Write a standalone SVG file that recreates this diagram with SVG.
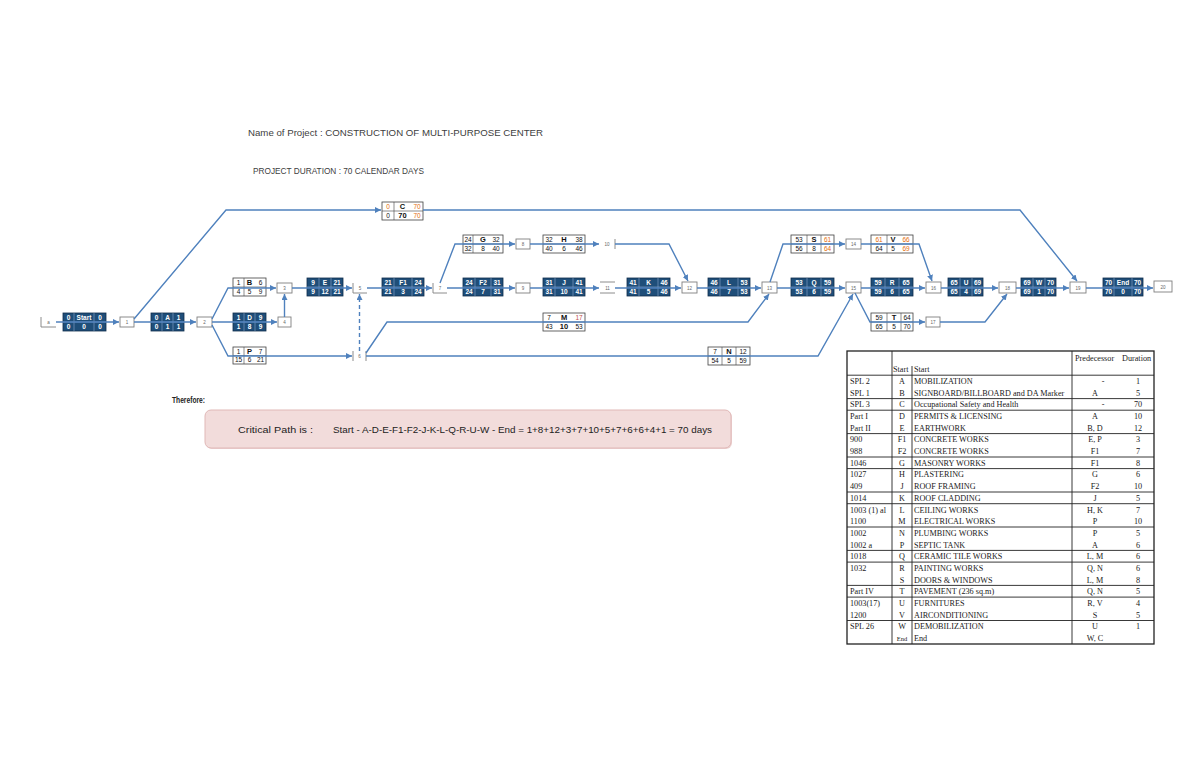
<svg xmlns="http://www.w3.org/2000/svg" width="1200" height="763" viewBox="0 0 1200 763">
<defs>
<marker id="ah" viewBox="0 0 6 6" refX="6" refY="3" markerWidth="6" markerHeight="6" markerUnits="userSpaceOnUse" orient="auto"><path d="M0,0 L6,3 L0,6 z" fill="#4F81BD"/></marker>
<style>
.bn{fill:#1F4E79;stroke:#0F2D4D;stroke-width:0.8}
.bl{stroke:#8FA9CC;stroke-width:0.6}
.wn{fill:#fff;stroke:#404040;stroke-width:0.8}
.wl{stroke:#404040;stroke-width:0.6}
.tw{fill:#fff;font-family:"Liberation Sans",Arial,sans-serif;font-size:6.5px;font-weight:bold;text-anchor:middle}
.tk{fill:#111;font-family:"Liberation Sans",Arial,sans-serif;font-size:6.5px;text-anchor:middle}
.tk b,.big{font-weight:bold;font-size:7.5px}
.or{fill:#E46C0A}
.ev{fill:#fff;stroke:#7F7F7F;stroke-width:0.9}
.evl{fill:none;stroke:#7F7F7F;stroke-width:0.9}
.evt{fill:#666;font-family:"Liberation Sans",Arial,sans-serif;font-size:4.5px;text-anchor:middle}
.cn{fill:none;stroke:#4F81BD;stroke-width:1.4}
.hd{fill:#404040;font-family:"Liberation Sans",Arial,sans-serif;font-size:9px}
.tt{fill:#1a1a1a;font-family:"Liberation Serif","Times New Roman",serif;font-size:8.2px}
.tc{text-anchor:middle}
.tg{stroke:#222;stroke-width:0.9}
</style>
</defs>
<rect width="1200" height="763" fill="#fff"/>

<g id="title">
<text class="hd" x="248" y="136" textLength="295" lengthAdjust="spacingAndGlyphs">Name of Project  :  CONSTRUCTION OF MULTI-PURPOSE CENTER</text>
<text class="hd" x="253" y="174" textLength="171" lengthAdjust="spacingAndGlyphs">PROJECT DURATION : 70 CALENDAR DAYS</text>
</g>

<!-- events -->
<g id="events">
<g id="ev1"><path class="evl" d="M41,317 V327 H56"/><text class="evt" x="48.5" y="324">a</text></g>
<g id="ev2"><rect class="ev" x="120" y="317" width="14" height="10"/><text class="evt" x="127" y="324">1</text></g>
<g id="ev3"><rect class="ev" x="197" y="317" width="15" height="10"/><text class="evt" x="204.5" y="324">2</text></g>
<g id="ev4"><rect class="ev" x="277" y="283" width="15" height="10"/><text class="evt" x="284.5" y="290">3</text></g>
<g id="ev5"><rect class="ev" x="278" y="317" width="13" height="10"/><text class="evt" x="284.5" y="324">4</text></g>
<g id="ev6"><path class="evl" d="M353,283 V293 H367"/><text class="evt" x="360" y="290">5</text></g>
<g id="ev7"><path class="evl" d="M353,351 V361 M366,351 V361"/><text class="evt" x="359.5" y="358">6</text></g>
<g id="ev8"><path class="evl" d="M433,283 V293 H447"/><text class="evt" x="440" y="290">7</text></g>
<g id="ev9"><rect class="ev" x="516" y="239" width="14" height="10"/><text class="evt" x="523" y="246">8</text></g>
<g id="ev10"><path class="evl" d="M615,239 V249"/><text class="evt" x="607" y="246">10</text></g>
<g id="ev11"><rect class="ev" x="516" y="283" width="14" height="10"/><text class="evt" x="523" y="290">9</text></g>
<g id="ev12"><path class="evl" d="M600,282 H615 M600,293 H615"/><text class="evt" x="607.5" y="290">11</text></g>
<g id="ev13"><rect class="ev" x="682" y="282" width="15" height="11"/><text class="evt" x="689.5" y="290">12</text></g>
<g id="ev14"><rect class="ev" x="762" y="282" width="15" height="11"/><text class="evt" x="769.5" y="290">13</text></g>
<g id="ev15"><rect class="ev" x="846" y="239" width="15" height="10"/><text class="evt" x="853.5" y="246">14</text></g>
<g id="ev16"><rect class="ev" x="846" y="282" width="15" height="11"/><text class="evt" x="853.5" y="290">15</text></g>
<g id="ev17"><rect class="ev" x="926" y="282" width="15" height="11"/><text class="evt" x="933.5" y="290">16</text></g>
<g id="evT"><rect class="ev" x="926" y="317" width="14" height="10"/><text class="evt" x="933" y="324">17</text></g>
<g id="ev18"><rect class="ev" x="999" y="282" width="17" height="11"/><text class="evt" x="1007.5" y="290">18</text></g>
<g id="ev19"><rect class="ev" x="1070" y="282" width="16" height="11"/><text class="evt" x="1078" y="290">19</text></g>
<g id="ev20"><rect class="ev" x="1154" y="281" width="18" height="11"/><text class="evt" x="1163" y="289">20</text></g>
</g>

<!-- activity nodes -->
<g id="nStart" transform="translate(63,313)"><rect class="bn" width="43" height="18"/><path class="bl" d="M11,0V18M31,0V18M0,9H43"/>
<text class="tw" x="5.5" y="7">0</text><text class="tw" x="21" y="7">Start</text><text class="tw" x="37" y="7">0</text>
<text class="tw" x="5.5" y="15.5">0</text><text class="tw" x="21" y="15.5">0</text><text class="tw" x="37" y="15.5">0</text></g>

<g id="nA" transform="translate(151,313)"><rect class="bn" width="33" height="18"/><path class="bl" d="M11,0V18M22,0V18M0,9H33"/>
<text class="tw" x="5.5" y="7">0</text><text class="tw" x="16.5" y="7">A</text><text class="tw" x="27.5" y="7">1</text>
<text class="tw" x="5.5" y="15.5">0</text><text class="tw" x="16.5" y="15.5">1</text><text class="tw" x="27.5" y="15.5">1</text></g>

<g id="nB" transform="translate(233,278)"><rect class="wn" width="33" height="18"/><path class="wl" d="M11,0V18M0,9H33"/>
<text class="tk" x="5.5" y="7">1</text><text class="tk big" x="16.5" y="7">B</text><text class="tk" x="27.5" y="7">6</text>
<text class="tk" x="5.5" y="15.5">4</text><text class="tk" x="16.5" y="15.5">5</text><text class="tk" x="27.5" y="15.5">9</text></g>

<g id="nD" transform="translate(233,313)"><rect class="bn" width="33" height="18"/><path class="bl" d="M11,0V18M22,0V18M0,9H33"/>
<text class="tw" x="5.5" y="7">1</text><text class="tw" x="16.5" y="7">D</text><text class="tw" x="27.5" y="7">9</text>
<text class="tw" x="5.5" y="15.5">1</text><text class="tw" x="16.5" y="15.5">8</text><text class="tw" x="27.5" y="15.5">9</text></g>

<g id="nP" transform="translate(233,347)"><rect class="wn" width="33" height="17"/><path class="wl" d="M11,0V17M0,8.5H33"/>
<text class="tk" x="5.5" y="6.5">1</text><text class="tk big" x="16.5" y="6.5">P</text><text class="tk" x="27.5" y="6.5">7</text>
<text class="tk" x="5.5" y="15">15</text><text class="tk" x="16.5" y="15">6</text><text class="tk" x="27.5" y="15">21</text></g>

<g id="nE" transform="translate(307,278)"><rect class="bn" width="36" height="18"/><path class="bl" d="M12,0V18M24,0V18M0,9H36"/>
<text class="tw" x="6" y="7">9</text><text class="tw" x="18" y="7">E</text><text class="tw" x="30" y="7">21</text>
<text class="tw" x="6" y="15.5">9</text><text class="tw" x="18" y="15.5">12</text><text class="tw" x="30" y="15.5">21</text></g>

<g id="nC" transform="translate(382,202)"><rect class="wn" width="41" height="18"/><path class="wl" d="M12,0V18M0,9H41"/>
<text class="tk or" x="6" y="7">0</text><text class="tk big" x="20.5" y="7">C</text><text class="tk or" x="35" y="7">70</text>
<text class="tk" x="6" y="15.5">0</text><text class="tk big" x="20.5" y="15.5">70</text><text class="tk or" x="35" y="15.5">70</text></g>

<g id="nF1" transform="translate(382,278)"><rect class="bn" width="42" height="18"/><path class="bl" d="M12,0V18M30,0V18M0,9H42"/>
<text class="tw" x="6" y="7">21</text><text class="tw" x="21" y="7">F1</text><text class="tw" x="36" y="7">24</text>
<text class="tw" x="6" y="15.5">21</text><text class="tw" x="21" y="15.5">3</text><text class="tw" x="36" y="15.5">24</text></g>

<g id="nG" transform="translate(463,235)"><rect class="wn" width="40" height="18"/><path class="wl" d="M10,0V18M0,9H40"/>
<text class="tk" x="5" y="7">24</text><text class="tk big" x="20" y="7">G</text><text class="tk" x="33" y="7">32</text>
<text class="tk" x="5" y="15.5">32</text><text class="tk" x="20" y="15.5">8</text><text class="tk" x="33" y="15.5">40</text></g>

<g id="nF2" transform="translate(463,278)"><rect class="bn" width="40" height="18"/><path class="bl" d="M12,0V18M28,0V18M0,9H40"/>
<text class="tw" x="6" y="7">24</text><text class="tw" x="20" y="7">F2</text><text class="tw" x="34" y="7">31</text>
<text class="tw" x="6" y="15.5">24</text><text class="tw" x="20" y="15.5">7</text><text class="tw" x="34" y="15.5">31</text></g>

<g id="nH" transform="translate(543,235)"><rect class="wn" width="42" height="18"/><path class="wl" d="M0,9H42"/>
<text class="tk" x="6" y="7">32</text><text class="tk big" x="21" y="7">H</text><text class="tk" x="36" y="7">38</text>
<text class="tk" x="6" y="15.5">40</text><text class="tk" x="21" y="15.5">6</text><text class="tk" x="36" y="15.5">46</text></g>

<g id="nJ" transform="translate(543,278)"><rect class="bn" width="42" height="18"/><path class="bl" d="M12,0V18M30,0V18M0,9H42"/>
<text class="tw" x="6" y="7">31</text><text class="tw" x="21" y="7">J</text><text class="tw" x="36" y="7">41</text>
<text class="tw" x="6" y="15.5">31</text><text class="tw" x="21" y="15.5">10</text><text class="tw" x="36" y="15.5">41</text></g>

<g id="nM" transform="translate(543,313)"><rect class="wn" width="42" height="18"/><path class="wl" d="M0,9H42"/>
<text class="tk" x="6" y="7">7</text><text class="tk big" x="21" y="7">M</text><text class="tk" x="36" y="7" fill="#C0504D" style="fill:#C0504D">17</text>
<text class="tk" x="6" y="15.5">43</text><text class="tk big" x="21" y="15.5">10</text><text class="tk" x="36" y="15.5">53</text></g>

<g id="nK" transform="translate(627,278)"><rect class="bn" width="43" height="18"/><path class="bl" d="M12,0V18M31,0V18M0,9H43"/>
<text class="tw" x="6" y="7">41</text><text class="tw" x="21.5" y="7">K</text><text class="tw" x="37" y="7">46</text>
<text class="tw" x="6" y="15.5">41</text><text class="tw" x="21.5" y="15.5">5</text><text class="tw" x="37" y="15.5">46</text></g>

<g id="nL" transform="translate(708,278)"><rect class="bn" width="42" height="18"/><path class="bl" d="M12,0V18M30,0V18M0,9H42"/>
<text class="tw" x="6" y="7">46</text><text class="tw" x="21" y="7">L</text><text class="tw" x="36" y="7">53</text>
<text class="tw" x="6" y="15.5">46</text><text class="tw" x="21" y="15.5">7</text><text class="tw" x="36" y="15.5">53</text></g>

<g id="nN" transform="translate(708,347)"><rect class="wn" width="42" height="18"/><path class="wl" d="M14,0V18M28,0V18M0,9H42"/>
<text class="tk" x="7" y="7">7</text><text class="tk big" x="21" y="7">N</text><text class="tk" x="35" y="7">12</text>
<text class="tk" x="7" y="15.5">54</text><text class="tk" x="21" y="15.5">5</text><text class="tk" x="35" y="15.5">59</text></g>

<g id="nS" transform="translate(791,235)"><rect class="wn" width="43" height="18"/><path class="wl" d="M16,0V18M30,0V18M0,9H43"/>
<text class="tk" x="8" y="7">53</text><text class="tk big" x="23" y="7">S</text><text class="tk or" x="36.5" y="7">61</text>
<text class="tk" x="8" y="15.5">56</text><text class="tk" x="23" y="15.5">8</text><text class="tk or" x="36.5" y="15.5">64</text></g>

<g id="nQ" transform="translate(791,278)"><rect class="bn" width="43" height="18"/><path class="bl" d="M16,0V18M30,0V18M0,9H43"/>
<text class="tw" x="8" y="7">53</text><text class="tw" x="23" y="7">Q</text><text class="tw" x="36.5" y="7">59</text>
<text class="tw" x="8" y="15.5">53</text><text class="tw" x="23" y="15.5">6</text><text class="tw" x="36.5" y="15.5">59</text></g>

<g id="nV" transform="translate(871,235)"><rect class="wn" width="42" height="18"/><path class="wl" d="M16,0V18M0,9H42"/>
<text class="tk or" x="8" y="7">61</text><text class="tk big" x="22" y="7">V</text><text class="tk or" x="35" y="7">66</text>
<text class="tk" x="8" y="15.5">64</text><text class="tk" x="22" y="15.5">5</text><text class="tk or" x="35" y="15.5">69</text></g>

<g id="nR" transform="translate(871,278)"><rect class="bn" width="42" height="18"/><path class="bl" d="M14,0V18M28,0V18M0,9H42"/>
<text class="tw" x="7" y="7">59</text><text class="tw" x="21" y="7">R</text><text class="tw" x="35" y="7">65</text>
<text class="tw" x="7" y="15.5">59</text><text class="tw" x="21" y="15.5">6</text><text class="tw" x="35" y="15.5">65</text></g>

<g id="nT" transform="translate(871,313)"><rect class="wn" width="42" height="18"/><path class="wl" d="M16,0V18M30,0V18M0,9H42"/>
<text class="tk" x="8" y="7">59</text><text class="tk big" x="23" y="7">T</text><text class="tk" x="36" y="7">64</text>
<text class="tk" x="8" y="15.5">65</text><text class="tk" x="23" y="15.5">5</text><text class="tk" x="36" y="15.5">70</text></g>

<g id="nU" transform="translate(948,278)"><rect class="bn" width="35" height="18"/><path class="bl" d="M12,0V18M24,0V18M0,9H35"/>
<text class="tw" x="6" y="7">65</text><text class="tw" x="18" y="7">U</text><text class="tw" x="29.5" y="7">69</text>
<text class="tw" x="6" y="15.5">65</text><text class="tw" x="18" y="15.5">4</text><text class="tw" x="29.5" y="15.5">69</text></g>

<g id="nW" transform="translate(1021,278)"><rect class="bn" width="35" height="18"/><path class="bl" d="M12,0V18M24,0V18M0,9H35"/>
<text class="tw" x="6" y="7">69</text><text class="tw" x="18" y="7">W</text><text class="tw" x="29.5" y="7">70</text>
<text class="tw" x="6" y="15.5">69</text><text class="tw" x="18" y="15.5">1</text><text class="tw" x="29.5" y="15.5">70</text></g>

<g id="nEnd" transform="translate(1103,278)"><rect class="bn" width="40" height="18"/><path class="bl" d="M11,0V18M29,0V18M0,9H40"/>
<text class="tw" x="5.5" y="7">70</text><text class="tw" x="20" y="7">End</text><text class="tw" x="34.5" y="7">70</text>
<text class="tw" x="5.5" y="15.5">70</text><text class="tw" x="20" y="15.5">0</text><text class="tw" x="34.5" y="15.5">70</text></g>

<!-- connectors -->
<g id="connectors">
<path class="cn" d="M56,322 L119,322" marker-end="url(#ah)"/>
<path class="cn" d="M134,319 L226,210 L381,210" marker-end="url(#ah)"/>
<path class="cn" d="M423,210 L1020,210 L1077,281" marker-end="url(#ah)"/>
<path class="cn" d="M134,322 L196,322" marker-end="url(#ah)"/>
<path class="cn" d="M212,319 L228,288 L276,288" marker-end="url(#ah)"/>
<path class="cn" d="M212,322 L277,322" marker-end="url(#ah)"/>
<path class="cn" d="M212,325 L228,356 L352,356" marker-end="url(#ah)"/>
<path class="cn" d="M284.5,317 L284.5,294" marker-end="url(#ah)"/>
<path class="cn" d="M292,288 L352,288" marker-end="url(#ah)"/>
<path class="cn" d="M359.5,351 L359.5,294" stroke-dasharray="4,3" marker-end="url(#ah)"/>
<path class="cn" d="M367,288 L432,288" marker-end="url(#ah)"/>
<path class="cn" d="M440,283 L455,244 L515,244" marker-end="url(#ah)"/>
<path class="cn" d="M447,288 L515,288" marker-end="url(#ah)"/>
<path class="cn" d="M530,244 L599,244" marker-end="url(#ah)"/>
<path class="cn" d="M615,244 L669,244 L688,281" marker-end="url(#ah)"/>
<path class="cn" d="M530,288 L599,288" marker-end="url(#ah)"/>
<path class="cn" d="M615,288 L681,288" marker-end="url(#ah)"/>
<path class="cn" d="M697,288 L761,288" marker-end="url(#ah)"/>
<path class="cn" d="M366,353 L387,322 L748,322 L769,294" marker-end="url(#ah)"/>
<path class="cn" d="M366,356 L818,356 L853,294" marker-end="url(#ah)"/>
<path class="cn" d="M770,282 L783,244 L845,244" marker-end="url(#ah)"/>
<path class="cn" d="M777,288 L845,288" marker-end="url(#ah)"/>
<path class="cn" d="M861,244 L919,244 L932,281" marker-end="url(#ah)"/>
<path class="cn" d="M861,288 L925,288" marker-end="url(#ah)"/>
<path class="cn" d="M855,293 L870,322 L925,322" marker-end="url(#ah)"/>
<path class="cn" d="M940,322 L985,322 L1007,294" marker-end="url(#ah)"/>
<path class="cn" d="M941,288 L998,288" marker-end="url(#ah)"/>
<path class="cn" d="M1016,288 L1069,288" marker-end="url(#ah)"/>
<path class="cn" d="M1086,288 L1153,288" marker-end="url(#ah)"/>
</g>

<g id="critical">
<text x="172" y="403" font-family="Liberation Sans, Arial, sans-serif" font-size="9" font-weight="bold" fill="#222" textLength="33" lengthAdjust="spacingAndGlyphs">Therefore:</text>
<rect x="206" y="411" width="526" height="38" rx="6" fill="#D9A8A6" opacity="0.5"/>
<rect x="205" y="410" width="526" height="38" rx="6" fill="#F2DCDB" stroke="#E0B8B7" stroke-width="1"/>
<text x="238" y="433" font-family="Liberation Sans, Arial, sans-serif" font-size="9" fill="#222" textLength="75" lengthAdjust="spacingAndGlyphs">Critical Path is :</text>
<text x="333" y="433" font-family="Liberation Sans, Arial, sans-serif" font-size="9" fill="#222" textLength="379" lengthAdjust="spacingAndGlyphs">Start - A-D-E-F1-F2-J-K-L-Q-R-U-W - End  = 1+8+12+3+7+10+5+7+6+6+4+1 = 70 days</text>
</g>

<g id="table">
<rect x="847" y="351" width="307" height="293" fill="#fff" stroke="#222" stroke-width="1.3"/>
<path class="tg" d="M892,351V644 M912,366V644 M1072,351V644"/>
<path class="tg" stroke-width="1.2" d="M847,375.2H1154 M847,398.6H1154 M847,410.2H1154 M847,433.6H1154 M847,457H1154 M847,468.6H1154 M847,492H1154 M847,503.7H1154 M847,527H1154 M847,550.4H1154 M847,562.1H1154 M847,585.4H1154 M847,597.1H1154 M847,620.5H1154"/>
<text class="tt" x="1075" y="361">Predecessor</text>
<text class="tt" x="1122" y="361">Duration</text>
<text class="tt" x="893" y="372" font-size="7.5">Start</text>
<text class="tt" x="914" y="372" font-size="7.5">Start</text>
<g class="tt">
<text x="850" y="384">SPL 2</text><text x="902" y="384" class="tc">A</text><text x="914" y="384">MOBILIZATION</text><text x="1103" y="384" class="tc">-</text><text x="1138" y="384" class="tc">1</text>
<text x="850" y="395.7">SPL 1</text><text x="902" y="395.7" class="tc">B</text><text x="914" y="395.7">SIGNBOARD/BILLBOARD and DA Marker</text><text x="1095" y="395.7" class="tc">A</text><text x="1138" y="395.7" class="tc">5</text>
<text x="850" y="407.4">SPL 3</text><text x="902" y="407.4" class="tc">C</text><text x="914" y="407.4">Occupational Safety and Health</text><text x="1103" y="407.4" class="tc">-</text><text x="1138" y="407.4" class="tc">70</text>
<text x="850" y="419">Part I</text><text x="902" y="419" class="tc">D</text><text x="914" y="419">PERMITS &amp; LICENSING</text><text x="1095" y="419" class="tc">A</text><text x="1138" y="419" class="tc">10</text>
<text x="850" y="430.7">Part II</text><text x="902" y="430.7" class="tc">E</text><text x="914" y="430.7">EARTHWORK</text><text x="1095" y="430.7" class="tc">B, D</text><text x="1138" y="430.7" class="tc">12</text>
<text x="850" y="442.4">900</text><text x="902" y="442.4" class="tc">F1</text><text x="914" y="442.4">CONCRETE WORKS</text><text x="1095" y="442.4" class="tc">E, P</text><text x="1138" y="442.4" class="tc">3</text>
<text x="850" y="454.1">988</text><text x="902" y="454.1" class="tc">F2</text><text x="914" y="454.1">CONCRETE WORKS</text><text x="1095" y="454.1" class="tc">F1</text><text x="1138" y="454.1" class="tc">7</text>
<text x="850" y="465.8">1046</text><text x="902" y="465.8" class="tc">G</text><text x="914" y="465.8">MASONRY WORKS</text><text x="1095" y="465.8" class="tc">F1</text><text x="1138" y="465.8" class="tc">8</text>
<text x="850" y="477.4">1027</text><text x="902" y="477.4" class="tc">H</text><text x="914" y="477.4">PLASTERING</text><text x="1095" y="477.4" class="tc">G</text><text x="1138" y="477.4" class="tc">6</text>
<text x="850" y="489.1">409</text><text x="902" y="489.1" class="tc">J</text><text x="914" y="489.1">ROOF FRAMING</text><text x="1095" y="489.1" class="tc">F2</text><text x="1138" y="489.1" class="tc">10</text>
<text x="850" y="500.8">1014</text><text x="902" y="500.8" class="tc">K</text><text x="914" y="500.8">ROOF CLADDING</text><text x="1095" y="500.8" class="tc">J</text><text x="1138" y="500.8" class="tc">5</text>
<text x="850" y="512.5">1003 (1) al</text><text x="902" y="512.5" class="tc">L</text><text x="914" y="512.5">CEILING WORKS</text><text x="1095" y="512.5" class="tc">H, K</text><text x="1138" y="512.5" class="tc">7</text>
<text x="850" y="524.2">1100</text><text x="902" y="524.2" class="tc">M</text><text x="914" y="524.2">ELECTRICAL WORKS</text><text x="1095" y="524.2" class="tc">P</text><text x="1138" y="524.2" class="tc">10</text>
<text x="850" y="535.8">1002</text><text x="902" y="535.8" class="tc">N</text><text x="914" y="535.8">PLUMBING WORKS</text><text x="1095" y="535.8" class="tc">P</text><text x="1138" y="535.8" class="tc">5</text>
<text x="850" y="547.5">1002 a</text><text x="902" y="547.5" class="tc">P</text><text x="914" y="547.5">SEPTIC TANK</text><text x="1095" y="547.5" class="tc">A</text><text x="1138" y="547.5" class="tc">6</text>
<text x="850" y="559.2">1018</text><text x="902" y="559.2" class="tc">Q</text><text x="914" y="559.2">CERAMIC TILE WORKS</text><text x="1095" y="559.2" class="tc">L, M</text><text x="1138" y="559.2" class="tc">6</text>
<text x="850" y="570.9">1032</text><text x="902" y="570.9" class="tc">R</text><text x="914" y="570.9">PAINTING WORKS</text><text x="1095" y="570.9" class="tc">Q, N</text><text x="1138" y="570.9" class="tc">6</text>
<text x="902" y="582.6" class="tc">S</text><text x="914" y="582.6">DOORS &amp; WINDOWS</text><text x="1095" y="582.6" class="tc">L, M</text><text x="1138" y="582.6" class="tc">8</text>
<text x="850" y="594.3">Part IV</text><text x="902" y="594.3" class="tc">T</text><text x="914" y="594.3">PAVEMENT (236 sq.m)</text><text x="1095" y="594.3" class="tc">Q, N</text><text x="1138" y="594.3" class="tc">5</text>
<text x="850" y="605.9">1003(17)</text><text x="902" y="605.9" class="tc">U</text><text x="914" y="605.9">FURNITURES</text><text x="1095" y="605.9" class="tc">R, V</text><text x="1138" y="605.9" class="tc">4</text>
<text x="850" y="617.6">1200</text><text x="902" y="617.6" class="tc">V</text><text x="914" y="617.6">AIRCONDITIONING</text><text x="1095" y="617.6" class="tc">S</text><text x="1138" y="617.6" class="tc">5</text>
<text x="850" y="629.3">SPL 26</text><text x="902" y="629.3" class="tc">W</text><text x="914" y="629.3">DEMOBILIZATION</text><text x="1095" y="629.3" class="tc">U</text><text x="1138" y="629.3" class="tc">1</text>
<text x="902" y="641" class="tc" font-size="6.5">End</text><text x="914" y="641">End</text><text x="1095" y="641" class="tc">W, C</text>
</g>
</g>
</svg>
